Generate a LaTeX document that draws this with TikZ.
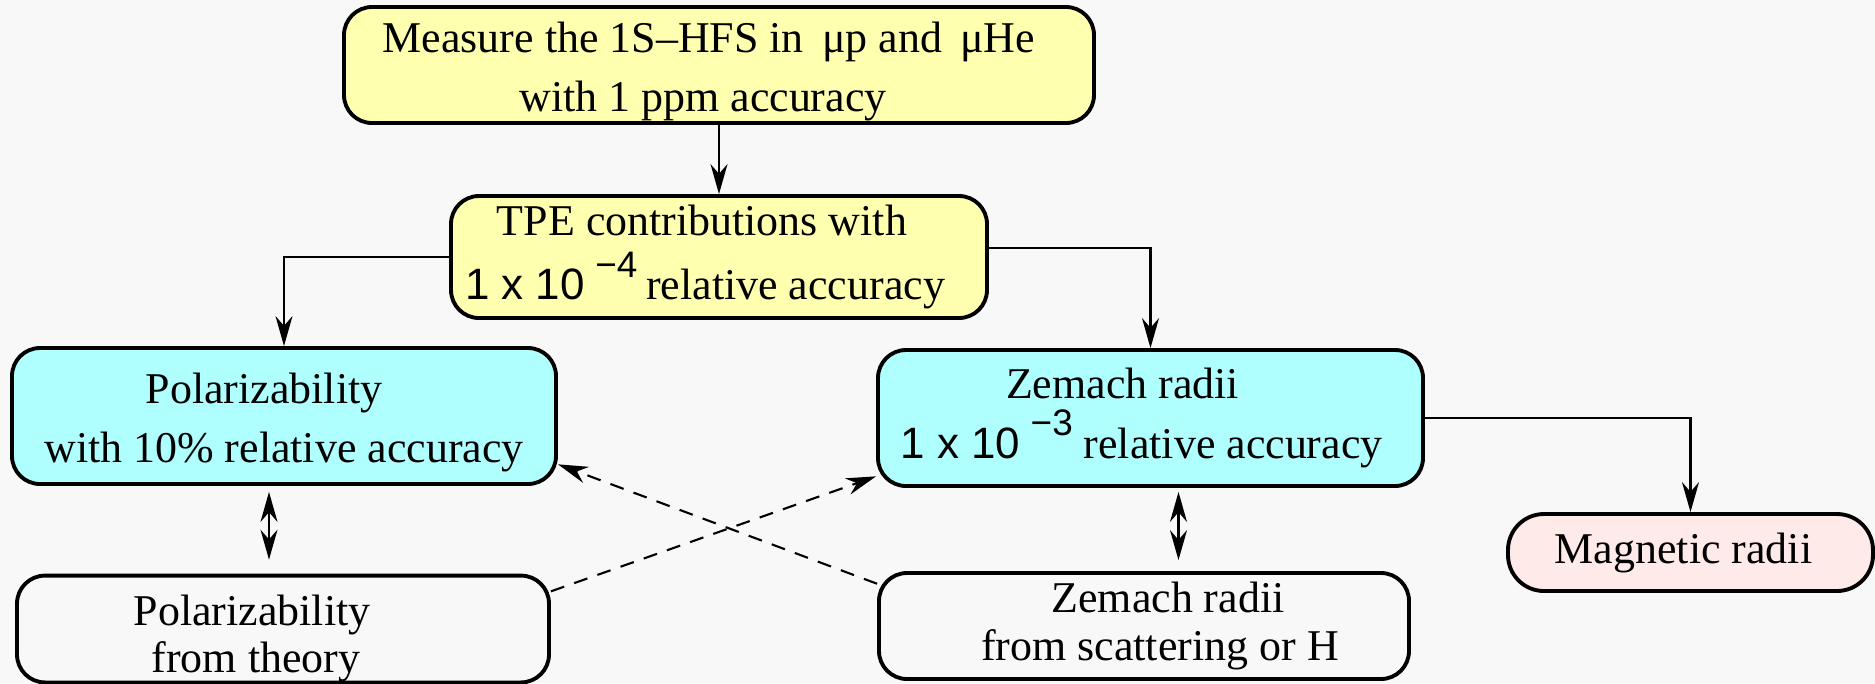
\documentclass[tikz,border=0pt]{standalone}
\usepackage{fontspec}
\setmainfont{Liberation Serif}
\setsansfont{Liberation Sans}
\usetikzlibrary{arrows.meta,calc}

\definecolor{bg}{RGB}{248,248,248}
\definecolor{paleyellow}{RGB}{255,255,176}
\definecolor{palecyan}{RGB}{176,255,255}
\definecolor{palepink}{RGB}{255,234,234}

\newcommand{\tenpow}[1]{{\sffamily\fontsize{12.5}{12.5}\selectfont 1 x 10\hspace{3pt}\raisebox{6.5pt}{\fontsize{10.5}{10.5}\selectfont −#1}}}

\begin{document}
\begin{tikzpicture}[every node/.style={font=\fontsize{12.5}{16.8}\selectfont},
    box/.style={draw=black, line width=1.1pt, rounded corners=0.28cm, align=center, inner sep=0pt},
    plainbox/.style={box, font=\fontsize{12.5}{13.5}\selectfont},
    link/.style={-{Stealth[length=0.3cm, width=0.17cm]}, line width=0.6pt},
    twoway/.style={{Stealth[length=0.3cm, width=0.17cm]}-{Stealth[length=0.3cm, width=0.17cm]}, line width=0.6pt},
    guess/.style={link, dash pattern=on 4pt off 3pt}]
    \fill[bg] (0,0) rectangle (18.75,-6.83);
    \useasboundingbox (0,0) rectangle (18.75,-6.83);

    \node[box, fill=paleyellow, minimum width=7.5cm, minimum height=1.16cm] (measure) at (7.19,-0.65)
        {\rule{0pt}{12.6pt}Measure the 1S--HFS in \,μp and \,μHe\hspace*{0.2cm}\\ with 1 ppm accuracy\hspace*{0.32cm}};
    \node[box, fill=paleyellow, minimum width=5.36cm, minimum height=1.22cm] (tpe) at (7.19,-2.57)
        {TPE contributions with\hspace*{0.34cm}\\[1.6pt] \tenpow{4}\hspace{2.5pt}relative accuracy\hspace*{0.28cm}};
    \node[box, fill=palecyan, minimum width=5.44cm, minimum height=1.36cm] (polar) at (2.84,-4.16)
        {\rule{0pt}{12.6pt}Polarizability\hspace*{0.4cm}\\ with 10\% relative accuracy};
    \node[box, fill=palecyan, minimum width=5.45cm, minimum height=1.36cm] (zemach) at (11.505,-4.18)
        {Zemach radii\hspace*{0.56cm}\\ \tenpow{3} relative accuracy\hspace*{0.18cm}};
    \node[box, fill=palepink, rounded corners=0.36cm, minimum width=3.65cm, minimum height=0.77cm] (magnetic) at (16.905,-5.525)
        {Magnetic radii\hspace*{0.14cm}};
    \node[plainbox, minimum width=5.32cm, minimum height=1.06cm] (theory) at (2.83,-6.29)
        {\rule{0pt}{14.2pt}Polarizability\hspace*{0.62cm}\\ from theory\hspace*{0.54cm}};
    \node[plainbox, minimum width=5.30cm, minimum height=1.06cm] (scatt) at (11.44,-6.26)
        {\hspace*{0.48cm}Zemach radii\\ \hspace*{0.32cm}from scattering or H};

    \draw[link] (measure.south) -- (tpe.north);
    \draw[link] (tpe.west) -| (polar.north);
    \draw[link] ([yshift=0.09cm]tpe.east) -| (zemach.north);
    \draw[link] (zemach.east) -| (magnetic.north);

    \draw[twoway, shorten <=0.06cm, shorten >=0.14cm] ([xshift=-0.15cm]polar.south) -- ([xshift=-0.15cm]polar.south |- theory.north);
    \draw[twoway, shorten <=0.04cm, shorten >=0.11cm] ([xshift=0.28cm]zemach.south) -- ([xshift=0.28cm]zemach.south |- scatt.north);

    \draw[guess] (theory.8) -- (zemach.192);
    \draw[guess] (scatt.171) -- (polar.350);
\end{tikzpicture}
\end{document}
